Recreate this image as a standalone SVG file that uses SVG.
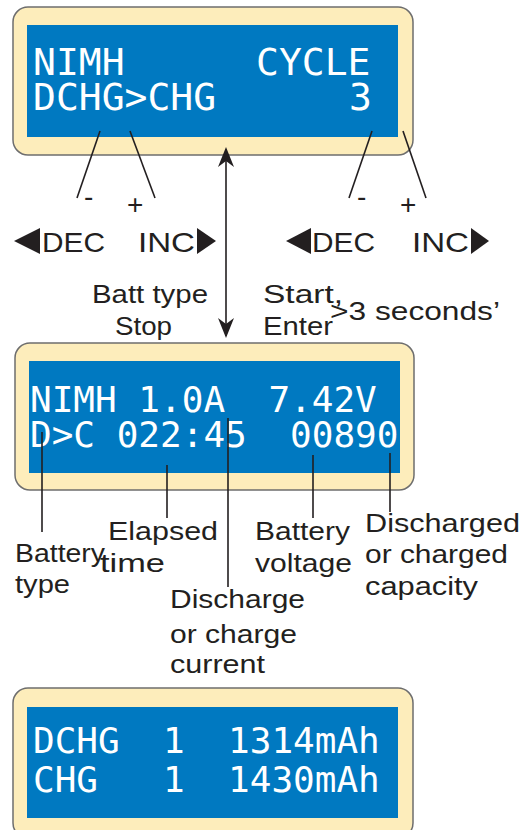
<svg xmlns="http://www.w3.org/2000/svg" width="526" height="830" viewBox="0 0 526 830">
<style>
.frame{fill:#fdedbb;stroke:#6e6e6e;stroke-width:1.5}
.lcd{fill:#0079c1}
.lt{font-family:"DejaVu Sans Mono","Liberation Mono",monospace;fill:#ffffff;white-space:pre}
.lb{font-family:"Liberation Sans",Arial,sans-serif;font-size:25px;fill:#231f20}
.key{font-family:"Liberation Sans",Arial,sans-serif;font-size:28px;fill:#231f20}
.ln{stroke:#231f20;stroke-width:1.6;fill:none}
.tri{fill:#231f20}
</style>
<defs>
<marker id="ah" viewBox="0 0 20 16" refX="18" refY="8" markerWidth="20" markerHeight="16" markerUnits="userSpaceOnUse" orient="auto-start-reverse">
<path d="M0,0 L20,8 L0,16 L6,8 Z" fill="#231f20"/>
</marker>
</defs>

<g id="panel1">
<rect class="frame" x="13" y="7" width="400" height="148" rx="15"/>
<rect class="lcd" x="27" y="25" width="371" height="112"/>
<text class="lt" x="33" y="75" font-size="38">NIMH</text>
<text class="lt" x="256" y="75" font-size="38">CYCLE</text>
<text class="lt" x="33" y="110" font-size="38">DCHG&gt;CHG</text>
<text class="lt" x="349" y="110" font-size="38">3</text>
</g>

<g id="panel2">
<rect class="frame" x="15" y="343" width="399" height="147" rx="15"/>
<rect class="lcd" x="29" y="361" width="371" height="112"/>
<text class="lt" x="30" y="412" font-size="36" xml:space="preserve">NIMH 1.0A  7.42V</text>
<text class="lt" x="30" y="447" font-size="36" xml:space="preserve">D&gt;C 022:45  00890</text>
</g>

<g id="panel3">
<rect class="frame" x="13" y="688" width="400" height="150" rx="15"/>
<rect class="lcd" x="27" y="707" width="371" height="111"/>
<text class="lt" x="33" y="753" font-size="36" xml:space="preserve">DCHG  1  1314mAh</text>
<text class="lt" x="33" y="792" font-size="36" xml:space="preserve">CHG   1  1430mAh</text>
</g>

<g id="connectors">
<line class="ln" x1="100" y1="131" x2="77" y2="198"/>
<line class="ln" x1="130" y1="131" x2="155" y2="198"/>
<line class="ln" x1="372" y1="131" x2="349" y2="198"/>
<line class="ln" x1="403" y1="131" x2="426" y2="198"/>
<line class="ln" x1="226" y1="149" x2="226" y2="336" marker-start="url(#ah)" marker-end="url(#ah)"/>
<line class="ln" x1="42" y1="432" x2="42" y2="532"/>
<line class="ln" x1="167" y1="465" x2="167" y2="518"/>
<line class="ln" x1="228" y1="418" x2="228" y2="587"/>
<line class="ln" x1="313" y1="455" x2="313" y2="518"/>
<line class="ln" x1="390" y1="453" x2="390" y2="512"/>
</g>

<g id="controls-left">
<text class="key" x="84" y="206">-</text>
<text class="key" x="127" y="214">+</text>
<path class="tri" d="M14,241 L40,228 L40,254 Z"/>
<text class="key" x="42" y="252" textLength="63" lengthAdjust="spacingAndGlyphs">DEC</text>
<text class="key" x="138" y="252" textLength="57" lengthAdjust="spacingAndGlyphs">INC</text>
<path class="tri" d="M216,241 L197,228 L197,254 Z"/>
</g>

<g id="controls-right">
<text class="key" x="357" y="206">-</text>
<text class="key" x="400" y="214">+</text>
<path class="tri" d="M286,241 L311,228 L311,254 Z"/>
<text class="key" x="312" y="252" textLength="63" lengthAdjust="spacingAndGlyphs">DEC</text>
<text class="key" x="412" y="252" textLength="57" lengthAdjust="spacingAndGlyphs">INC</text>
<path class="tri" d="M489,241 L471,228 L471,254 Z"/>
</g>

<g id="nav-labels">
<text class="lb" x="92" y="303" textLength="116" lengthAdjust="spacingAndGlyphs">Batt type</text>
<text class="lb" x="115" y="335" textLength="57" lengthAdjust="spacingAndGlyphs">Stop</text>
<text class="lb" x="263" y="303" textLength="80" lengthAdjust="spacingAndGlyphs">Start,</text>
<text class="lb" x="263" y="335" textLength="70" lengthAdjust="spacingAndGlyphs">Enter</text>
<text class="lb" x="330" y="320" textLength="170" lengthAdjust="spacingAndGlyphs">&gt;3 seconds’</text>
</g>

<g id="field-labels">
<text class="lb" x="15" y="562" textLength="90" lengthAdjust="spacingAndGlyphs">Battery</text>
<text class="lb" x="15" y="593" textLength="55" lengthAdjust="spacingAndGlyphs">type</text>
<text class="lb" x="108" y="540" textLength="110" lengthAdjust="spacingAndGlyphs">Elapsed</text>
<text class="lb" x="100" y="572" textLength="65" lengthAdjust="spacingAndGlyphs">time</text>
<text class="lb" x="255" y="540" textLength="95" lengthAdjust="spacingAndGlyphs">Battery</text>
<text class="lb" x="255" y="572" textLength="97" lengthAdjust="spacingAndGlyphs">voltage</text>
<text class="lb" x="365" y="532" textLength="155" lengthAdjust="spacingAndGlyphs">Discharged</text>
<text class="lb" x="365" y="563" textLength="143" lengthAdjust="spacingAndGlyphs">or charged</text>
<text class="lb" x="365" y="595" textLength="113" lengthAdjust="spacingAndGlyphs">capacity</text>
<text class="lb" x="170" y="608" textLength="135" lengthAdjust="spacingAndGlyphs">Discharge</text>
<text class="lb" x="170" y="643" textLength="127" lengthAdjust="spacingAndGlyphs">or charge</text>
<text class="lb" x="170" y="673" textLength="95" lengthAdjust="spacingAndGlyphs">current</text>
</g>
</svg>
